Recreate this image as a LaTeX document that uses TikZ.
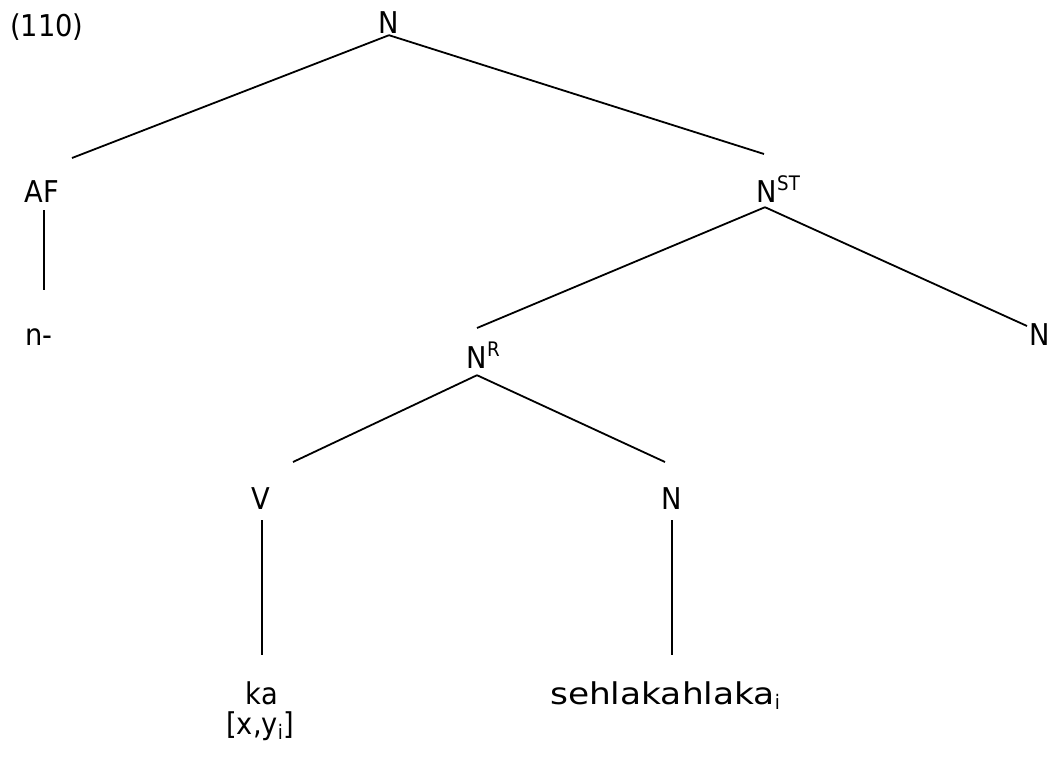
\documentclass[tikz,border=0pt]{standalone}
\usepackage{graphicx}
\usepackage{fontspec}
\setmainfont{DejaVu Sans}[FakeStretch=0.91]
\newcommand{\supx}[1]{\rlap{\raisebox{12pt}{\fontsize{20}{24}\selectfont #1}}}
\newcommand{\subx}[1]{\raisebox{-5pt}{\fontsize{20}{24}\selectfont #1}}
\begin{document}
\begin{tikzpicture}[x=1pt,y=-1pt,
  lbl/.style={inner sep=0pt, anchor=base, font=\fontsize{30}{36}\selectfont},
  edge/.style={line width=1.8pt, black}]
\useasboundingbox (0,0) rectangle (1055,776);
\node[lbl, anchor=base west] (ex) at (10,37) {(110)};
\node[lbl] (n0) at (389,34) {N};
\node[lbl] (af) at (42,202) {AF};
\node[lbl] (nst) at (767,202) {N\supx{ST}};
\node[lbl, anchor=base west] (aff) at (25,345) {n-};
\node[lbl] (nr) at (477,368) {N\supx{R}};
\node[lbl] (n2) at (1040,345) {N};
\node[lbl] (v) at (261,509) {V};
\node[lbl] (n3) at (672,509) {N};
\node[lbl] (ka) at (262,704) {ka};
\node[lbl] (xy) at (260,734) {[x,y\subx{i}]};
\node[lbl] (seh) at (665,704) {\scalebox{1.26}[1]{sehlakahlaka}\subx{i}};
\coordinate (e1) at (72,158);
\coordinate (e2) at (764,154);
\coordinate (e3) at (477,328);
\coordinate (e4) at (1027,326);
\coordinate (e5) at (293,462);
\coordinate (e6) at (665,462);
\draw[edge] ([yshift=-1pt]n0.south) -- (e1);
\draw[edge] ([yshift=-1pt]n0.south) -- (e2);
\draw[edge] ([xshift=-2pt,yshift=-5pt]nst.south) -- (e3);
\draw[edge] ([xshift=-2pt,yshift=-5pt]nst.south) -- (e4);
\draw[edge] ([yshift=-7pt]nr.south) -- (e5);
\draw[edge] ([yshift=-7pt]nr.south) -- (e6);
\draw[edge] ([xshift=2pt,yshift=-8pt]af.south) -- ++(0,80);
\draw[edge] ([xshift=1pt,yshift=-11pt]v.south) -- ++(0,135);
\draw[edge] ([yshift=-11pt]n3.south) -- ++(0,135);
\end{tikzpicture}
\end{document}
